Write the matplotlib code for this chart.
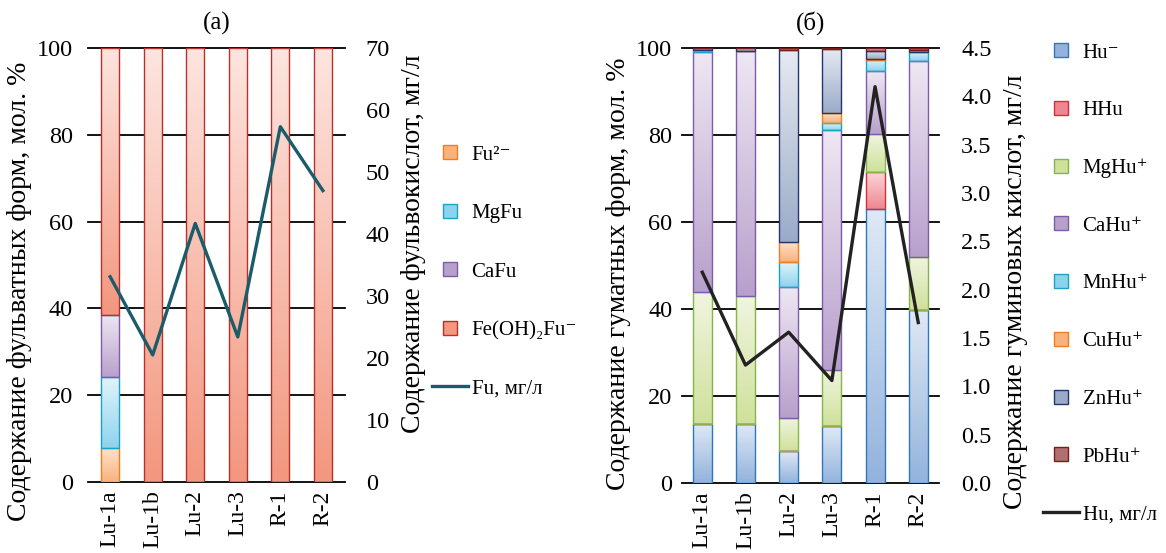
import numpy as np
import matplotlib
matplotlib.use('Agg')
import matplotlib.pyplot as plt
from matplotlib.colors import LinearSegmentedColormap
from matplotlib.lines import Line2D

plt.rcParams['font.family'] = ['Liberation Serif', 'DejaVu Serif']

samples = ['Lu-1a', 'Lu-1b', 'Lu-2', 'Lu-3', 'R-1', 'R-2']

# (а) fulvate forms, mol. %
fu2 = [7.8, 0, 0, 0, 0, 0]
mgfu = [16.3, 0, 0, 0, 0, 0]
cafu = [14.3, 0, 0, 0, 0, 0]
feohfu = [61.6, 100, 100, 100, 100, 100]
fu_mg = [33.1, 20.5, 41.7, 23.4, 57.3, 47.0]

# (б) humate forms, mol. %
hu_minus = [13.6, 13.6, 7.3, 13.0, 63.1, 39.8]
hhu = [0, 0, 0, 0, 8.3, 0]
mghu = [30.2, 29.3, 7.6, 13.0, 8.9, 12.2]
cahu = [55.2, 56.5, 30.2, 55.2, 14.3, 44.9]
mnhu = [0.5, 0, 5.7, 1.6, 2.6, 2.1]
cuhu = [0, 0, 4.7, 2.3, 0.3, 0]
znhu = [0.5, 0.6, 44.1, 14.7, 1.9, 0.5]
pbhu = [0, 0, 0.4, 0.2, 0.6, 0.5]
hu_mg = [2.18, 1.22, 1.56, 1.06, 4.10, 1.66]

# (top colour, bottom colour, edge colour)
ORANGE = ('#fee3cd', '#f8b27c', '#f47c20')
CYAN = ('#e0f4fb', '#8ed3ee', '#19a3c4')
PURPLE = ('#efe7f3', '#b8a0cc', '#7b5ea7')
FERED = ('#fde5df', '#f3977f', '#b8302a')
BLUE = ('#dfe9f5', '#93b3dd', '#2e78be')
RED = ('#fbd5d9', '#ee8890', '#d42d3c')
GREEN = ('#f0f5e0', '#cfe19b', '#86b44a')
NAVY = ('#e6eaf1', '#9aabc9', '#26356b')
MAROON = ('#e3c4c4', '#b07070', '#7a1c1c')

TICK_FS = 17.5
LABEL_FS = 20
LEG_FS = 15


def gradient_stack(ax, series, styles, width):
    x = np.arange(len(samples))
    bottom = np.zeros(len(samples))
    grad = np.linspace(0, 1, 64).reshape(-1, 1)
    for vals, (ctop, cbot, edge) in zip(series, styles):
        vals = np.asarray(vals, dtype=float)
        bars = ax.bar(x, vals, width, bottom=bottom, facecolor='none',
                      edgecolor=edge, linewidth=1.0, zorder=3)
        cmap = LinearSegmentedColormap.from_list('g', [cbot, ctop])
        for p, v in zip(bars.patches, vals):
            if v <= 0:
                continue
            ax.imshow(grad, extent=[p.get_x(), p.get_x() + p.get_width(),
                                    p.get_y(), p.get_y() + p.get_height()],
                      origin='lower', cmap=cmap, aspect='auto', zorder=2,
                      interpolation='bilinear')
        bottom += vals


def setup(ax, ax2, xlim, right_max, right_ticks, right_fmt):
    ax.set_xlim(*xlim)
    ax.set_ylim(0, 100)
    for v in range(0, 101, 20):
        ax.axhline(v, color='black', lw=1.3, zorder=1, clip_on=False)
    for a in (ax, ax2):
        for s in a.spines.values():
            s.set_visible(False)
    ax.set_yticks(range(0, 101, 20))
    ax.set_xticks(np.arange(len(samples)))
    ax.set_xticklabels(samples, rotation=90, fontsize=17)
    ax.tick_params(axis='x', length=0, pad=6)
    ax.tick_params(axis='y', length=0, labelsize=TICK_FS)
    ax2.set_ylim(0, right_max)
    ax2.set_yticks(right_ticks)
    ax2.set_yticklabels([right_fmt.format(t) for t in right_ticks])
    ax2.tick_params(axis='y', length=0, labelsize=TICK_FS)


def square(c):
    return Line2D([], [], ls='none', marker='s', markersize=10, markerfacecolor=c[1],
                  markeredgecolor=c[2], markeredgewidth=1.0)


fig = plt.figure(figsize=(11.66, 5.53), dpi=100)

# ---- (а)
ax1 = fig.add_axes([0.0755, 0.1284, 0.2204, 0.7848])
ax1b = ax1.twinx()
gradient_stack(ax1, [fu2, mgfu, cafu, feohfu], [ORANGE, CYAN, PURPLE, FERED], 0.43)
setup(ax1, ax1b, (-0.52, 5.52), 70, list(range(0, 71, 10)), '{:d}')
ax1.tick_params(axis='y', pad=11)
ax1b.tick_params(axis='y', pad=15)
ax1b.plot(np.arange(len(samples)), fu_mg, color='#1b5c6b', lw=2.4, zorder=5)
ax1.set_title('(а)', fontsize=18, pad=13)
ax1.set_ylabel('Содержание фульватных форм, мол. %', fontsize=LABEL_FS)
ax1.yaxis.set_label_coords(-0.218, 0.44)
ax1b.set_ylabel('Содержание фульвокислот, мг/л', fontsize=LABEL_FS)
ax1b.yaxis.set_label_coords(1.218, 0.55)

leg1_items = [('Fu²⁻', ORANGE), ('MgFu', CYAN), ('CaFu', PURPLE), ('Fe(OH)₂Fu⁻', FERED)]
h1 = [square(c) for _, c in leg1_items] + [Line2D([], [], color='#1b5c6b', lw=2.4)]
fig.legend(h1, [n for n, _ in leg1_items] + ['Fu, мг/л'], loc='upper left',
           bbox_to_anchor=(432 / 1166, 1 - 145 / 553), frameon=False, fontsize=LEG_FS,
           labelspacing=1.87, handlelength=1.75, handletextpad=0.15, borderpad=0,
           borderaxespad=0)

# ---- (б)
ax2 = fig.add_axes([0.5849, 0.1266, 0.2204, 0.7866])
ax2b = ax2.twinx()
gradient_stack(ax2, [hu_minus, hhu, mghu, cahu, mnhu, cuhu, znhu, pbhu],
               [BLUE, RED, GREEN, PURPLE, CYAN, ORANGE, NAVY, MAROON], 0.44)
hu_ticks = [i * 0.5 for i in range(10)]
setup(ax2, ax2b, (-0.47, 5.48), 4.5, hu_ticks, '{:.1f}')
ax2.tick_params(axis='y', pad=7)
ax2b.tick_params(axis='y', pad=16)
ax2b.plot(np.arange(len(samples)), hu_mg, color='#222222', lw=2.4, zorder=5)
ax2.set_title('(б)', fontsize=18, pad=13)
ax2.set_ylabel('Содержание гуматных форм, мол. %', fontsize=LABEL_FS)
ax2.yaxis.set_label_coords(-0.198, 0.48)
ax2b.set_ylabel('Содержание гуминовых кислот, мг/л', fontsize=LABEL_FS)
ax2b.yaxis.set_label_coords(1.248, 0.44)

leg2_items = [('Hu⁻', BLUE), ('HHu', RED), ('MgHu⁺', GREEN), ('CaHu⁺', PURPLE),
              ('MnHu⁺', CYAN), ('CuHu⁺', ORANGE), ('ZnHu⁺', NAVY), ('PbHu⁺', MAROON)]
h2 = [square(c) for _, c in leg2_items] + [Line2D([], [], color='#222222', lw=2.4)]
fig.legend(h2, [n for n, _ in leg2_items] + ['Hu, мг/л'], loc='upper left',
           bbox_to_anchor=(1043 / 1166, 1 - 43 / 553), frameon=False, fontsize=LEG_FS,
           labelspacing=1.83, handlelength=1.75, handletextpad=0.15, borderpad=0,
           borderaxespad=0)

fig.savefig('out.png', dpi=100)
